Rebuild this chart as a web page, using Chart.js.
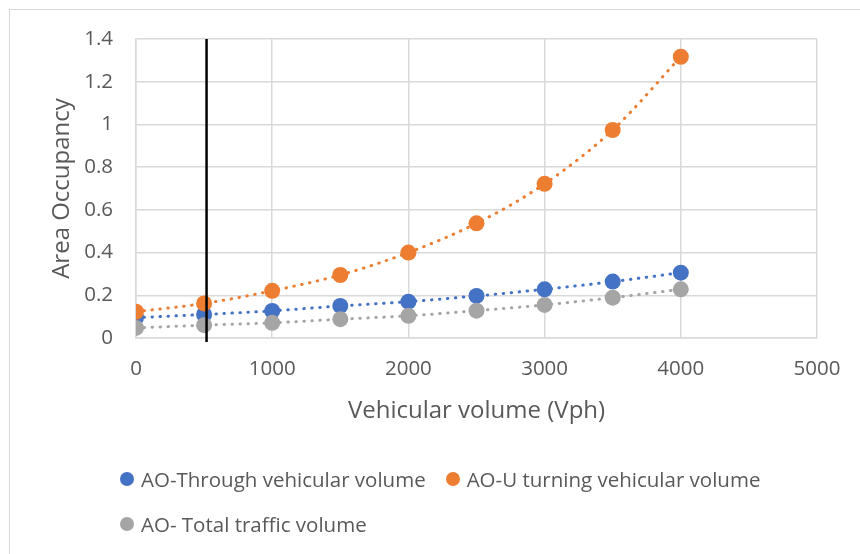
<!DOCTYPE html>
<html>
<head>
<meta charset="utf-8">
<script src="https://cdn.jsdelivr.net/npm/chart.js@4"></script>
<style>
  html, body { margin: 0; padding: 0; background: #fff; }
  #wrap { position: relative; width: 860px; height: 554px; overflow: hidden; }
  #frame { position: absolute; left: 9px; top: 9px; width: 860px; height: 560px;
           border-left: 1px solid #d9d9d9; border-top: 1px solid #d9d9d9; }
  canvas { position: absolute; left: 0; top: 0; }
  .row { position: absolute; left: 120px; display: flex; align-items: center;
         font-family: "Open Sans", sans-serif; font-size: 20.5px; color: #595959; white-space: nowrap; }
  .item { display: flex; align-items: center; margin-right: 20px; }
  .dot { width: 14px; height: 14px; border-radius: 50%; margin-right: 7px; }
</style>
</head>
<body>
<div id="wrap">
  <div id="frame"></div>
  <canvas id="aoChart" width="860" height="554"></canvas>
  <div class="row" style="top:465px">
    <div class="item"><span class="dot" style="background:#4472C4"></span>AO-Through vehicular volume</div>
    <div class="item"><span class="dot" style="background:#ED7D31"></span>AO-U turning vehicular volume</div>
  </div>
  <div class="row" style="top:510px">
    <div class="item"><span class="dot" style="background:#A5A5A5"></span>AO- Total traffic volume</div>
  </div>
</div>
<script>
// valores
const volumen = [0, 500, 1000, 1500, 2000, 2500, 3000, 3500, 4000];
const aoThrough = [0.095, 0.110, 0.127, 0.150, 0.170, 0.197, 0.228, 0.264, 0.306];
const aoUturn = [0.123, 0.162, 0.221, 0.295, 0.400, 0.537, 0.722, 0.974, 1.317];
const aoTotal = [0.047, 0.060, 0.071, 0.088, 0.104, 0.128, 0.155, 0.189, 0.228];
const xTicks = [0, 1000, 2000, 3000, 4000, 5000];
const lineaVertical = 518;

const gris = '#595959';
const fuenteTick = { family: 'Open Sans', size: 20.5 };
const fuenteTitulo = { family: 'Open Sans', size: 24 };

function puntos(ys) {
    return volumen.map((v, i) => ({ x: v, y: ys[i] }));
}

function serie(label, ys, color, orden) {
    return {
        label: label,
        data: puntos(ys),
        showLine: true,
        borderColor: color,
        backgroundColor: color,
        borderWidth: 3,
        borderDash: [0.5, 7.5],
        borderCapStyle: 'round',
        cubicInterpolationMode: 'monotone',
        pointRadius: 8,
        pointBorderWidth: 0,
        order: orden
    };
}

// linea negra vertical
const marcaVertical = {
    id: 'marcaVertical',
    afterDatasetsDraw(chart) {
        const ctx = chart.ctx;
        const x = chart.scales.x.getPixelForValue(lineaVertical);
        ctx.save();
        ctx.strokeStyle = '#000';
        ctx.lineWidth = 2.5;
        ctx.beginPath();
        ctx.moveTo(x, chart.chartArea.top);
        ctx.lineTo(x, chart.chartArea.bottom + 4);
        ctx.stroke();
        ctx.restore();
    }
};

const ctx = document.getElementById('aoChart').getContext('2d');
new Chart(ctx, {
    type: 'scatter',
    data: {
        datasets: [
            serie('AO-Through vehicular volume', aoThrough, '#4472C4', 3),
            serie('AO-U turning vehicular volume', aoUturn, '#ED7D31', 2),
            serie('AO- Total traffic volume', aoTotal, '#A5A5A5', 1)
        ]
    },
    options: {
        responsive: false,
        animation: false,
        layout: { padding: { left: 43.6, right: 43, top: 39, bottom: 124.6 } },
        plugins: {
            legend: { display: false },
            tooltip: { enabled: false }
        },
        scales: {
            x: {
                type: 'linear',
                min: 0,
                max: 5000,
                afterBuildTicks: s => { s.ticks = xTicks.map(v => ({ value: v })); },
                afterFit: s => { s.height = 91.4; },
                grid: { color: '#d9d9d9', lineWidth: 1.5, drawTicks: false },
                border: { color: '#d9d9d9', width: 1.5 },
                ticks: { color: gris, font: fuenteTick, padding: 19, callback: v => String(v) },
                title: { display: true, text: 'Vehicular volume (Vph)', color: gris, font: fuenteTitulo }
            },
            y: {
                min: 0,
                max: 1.4,
                afterFit: s => { s.width = 92.4; },
                grid: { color: '#d9d9d9', lineWidth: 1.5, drawTicks: false },
                border: { color: '#d9d9d9', width: 1.5 },
                ticks: { stepSize: 0.2, color: gris, font: fuenteTick, padding: 23,
                         callback: v => String(+v.toFixed(1)) },
                title: { display: true, text: 'Area Occupancy', color: gris, font: fuenteTitulo }
            }
        }
    },
    plugins: [marcaVertical]
});
</script>
</body>
</html>
